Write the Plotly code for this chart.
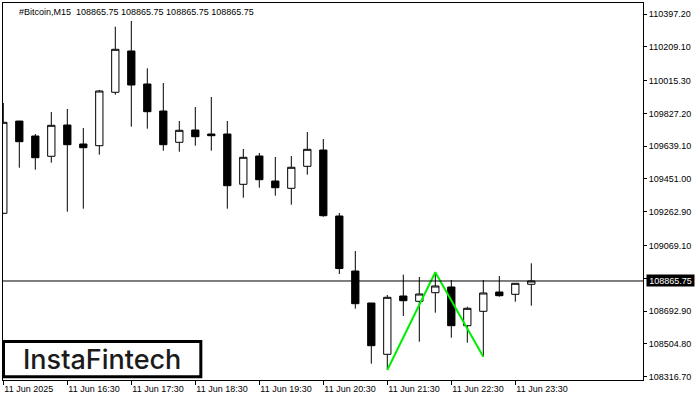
import plotly.graph_objects as go

# ---- data ----
times = ["15:30", "15:45", "16:00", "16:15", "16:30", "16:45", "17:00", "17:15",
         "17:30", "17:45", "18:00", "18:15", "18:30", "18:45", "19:00", "19:15",
         "19:30", "19:45", "20:00", "20:15", "20:30", "20:45", "21:00", "21:15",
         "21:30", "21:45", "22:00", "22:15", "22:30", "22:45", "23:00", "23:15",
         "23:30", "23:45"]
dates = ["2025-06-11 " + t for t in times]

opens = [109254.0, 109783.0, 109697.4, 109581.0, 109760.5, 109651.5, 109641.8, 109948.1,
         110185.0, 109995.7, 109840.8, 109661.3, 109731.8, 109708.9, 109708.9, 109420.3,
         109582.7, 109439.3, 109397.4, 109523.6, 109617.1, 109238.5, 108923.0, 108739.5,
         108445.2, 108779.6, 108749.2, 108798.5, 108831.3, 108609.3, 108691.9, 108802.6,
         108789.4, 108846.8]
highs = [109886.7, 109785.0, 109708.9, 109835.1, 109852.3, 109743.3, 109961.3, 110324.3,
         110357.0, 110085.7, 110001.4, 109783.4, 109863.7, 109921.1, 109783.4, 109622.8,
         109599.9, 109576.9, 109582.7, 109720.3, 109680.2, 109255.7, 109037.8, 108739.5,
         108785.4, 108901.8, 108888.6, 108915.6, 108871.4, 108718.3, 108871.4, 108894.4,
         108852.5, 108967.2]
lows = [109250.0, 109515.6, 109504.1, 109544.3, 109263.2, 109280.4, 109590.1, 109934.3,
        109750.7, 109739.3, 109613.1, 109607.3, 109641.8, 109613.1, 109280.4, 109343.5,
        109400.8, 109354.9, 109303.3, 109475.4, 109234.5, 108905.8, 108706.8, 108391.4,
        108355.2, 108664.9, 108517.5, 108683.9, 108540.4, 108511.8, 108431.5, 108775.6,
        108747.0, 108724.0]
closes = [109776.0, 109664.7, 109572.9, 109758.8, 109647.5, 109630.3, 109955.5, 110194.7,
          109989.9, 109836.8, 109647.5, 109730.1, 109693.4, 109699.1, 109412.3, 109575.2,
          109446.7, 109400.8, 109517.9, 109621.1, 109240.2, 108937.4, 108735.5, 108494.6,
          108772.2, 108752.7, 108791.1, 108837.0, 108609.3, 108709.1, 108796.9, 108781.4,
          108852.5, 108865.75]

pattern_times = ["2025-06-11 21:30", "2025-06-11 22:15", "2025-06-11 23:00"]
pattern_prices = [108355.2, 108915.6, 108431.5]

current_price = 108865.75

ytick_vals = [110397.20, 110209.10, 110015.30, 109827.20, 109639.10, 109451.00,
              109262.90, 109069.10, 108881.00, 108692.90, 108504.80, 108316.70]
ytick_text = ["110397.20", "110209.10", "110015.30", "109827.20", "109639.10", "109451.00",
              "109262.90", "109069.10", "", "108692.90", "108504.80", "108316.70"]

xtick_vals = ["2025-06-11 15:30", "2025-06-11 16:30", "2025-06-11 17:30", "2025-06-11 18:30",
              "2025-06-11 19:30", "2025-06-11 20:30", "2025-06-11 21:30", "2025-06-11 22:30",
              "2025-06-11 23:30"]
xtick_text = ["11 Jun 2025", "11 Jun 16:30", "11 Jun 17:30", "11 Jun 18:30",
              "11 Jun 19:30", "11 Jun 20:30", "11 Jun 21:30", "11 Jun 22:30",
              "11 Jun 23:30"]

title_text = "#Bitcoin,M15\u00a0\u00a0108865.75 108865.75 108865.75 108865.75"

FONT = "Liberation Sans"

fig = go.Figure()

fig.add_trace(go.Candlestick(
    x=dates, open=opens, high=highs, low=lows, close=closes,
    increasing=dict(line=dict(color="black", width=1), fillcolor="white"),
    decreasing=dict(line=dict(color="black", width=1), fillcolor="black"),
    whiskerwidth=0, showlegend=False, hoverinfo="skip",
))

fig.add_trace(go.Scatter(
    x=pattern_times, y=pattern_prices, mode="lines",
    line=dict(color="#00ee00", width=2), showlegend=False, hoverinfo="skip",
))

fig.add_shape(type="line", xref="paper", x0=0, x1=1, yref="y",
              y0=current_price, y1=current_price,
              line=dict(color="black", width=1))

# logo box
fig.add_shape(type="rect", xref="paper", yref="paper",
              x0=0.0008, x1=0.3091, y0=0.0085, y1=0.1021,
              line=dict(color="black", width=3), fillcolor="white", layer="above")

fig.add_annotation(xref="paper", yref="paper", x=(101.7 - 3) / 640, y=(380 - 359) / 377,
                   text="InstaFintech", showarrow=False, xanchor="center", yanchor="middle",
                   font=dict(family="Inter", size=27, color="#1b1b1b", weight=500))

fig.add_annotation(xref="paper", yref="paper", x=(17 - 3) / 640, y=(380 - 11.5) / 377,
                   text=title_text, showarrow=False, xanchor="left", yanchor="middle",
                   font=dict(family=FONT, size=9, color="black"))

fig.add_annotation(xref="paper", yref="y", x=1, y=current_price, xshift=3,
                   text=f"{current_price:.2f}", showarrow=False, xanchor="left",
                   yanchor="middle", bgcolor="black", width=47, height=11,
                   font=dict(family=FONT, size=9, color="white"), borderpad=0)

fig.update_layout(
    width=700, height=400,
    margin=dict(l=3, r=57, t=3, b=20),
    paper_bgcolor="white", plot_bgcolor="white",
    boxgap=0.35,
    xaxis=dict(
        type="date",
        range=["2025-06-11 15:29:43", "2025-06-12 01:29:43"],
        rangeslider=dict(visible=False),
        showgrid=False, zeroline=False,
        showline=True, linecolor="black", linewidth=1, mirror=True,
        ticks="outside", ticklen=4, tickcolor="black", tickwidth=1,
        tickvals=xtick_vals, ticktext=xtick_text,
        ticklabelposition="outside right",
        tickfont=dict(family=FONT, size=9, color="black"),
    ),
    yaxis=dict(
        side="right",
        range=[108297.8, 110460.3],
        showgrid=False, zeroline=False,
        showline=True, linecolor="black", linewidth=1, mirror=True,
        ticks="outside", ticklen=3, tickcolor="black", tickwidth=1,
        tickvals=ytick_vals, ticktext=ytick_text,
        tickfont=dict(family=FONT, size=9, color="black"),
    ),
)

fig.write_html("out.html", config={"displayModeBar": False, "staticPlot": True})

# remove the browser's default page margin so the 700x400 figure fills the window
with open("out.html", "r", encoding="utf-8") as f:
    html = f.read()
html = html.replace("<head>", "<head><style>html,body{margin:0;padding:0;overflow:hidden;}</style>", 1)
with open("out.html", "w", encoding="utf-8") as f:
    f.write(html)
